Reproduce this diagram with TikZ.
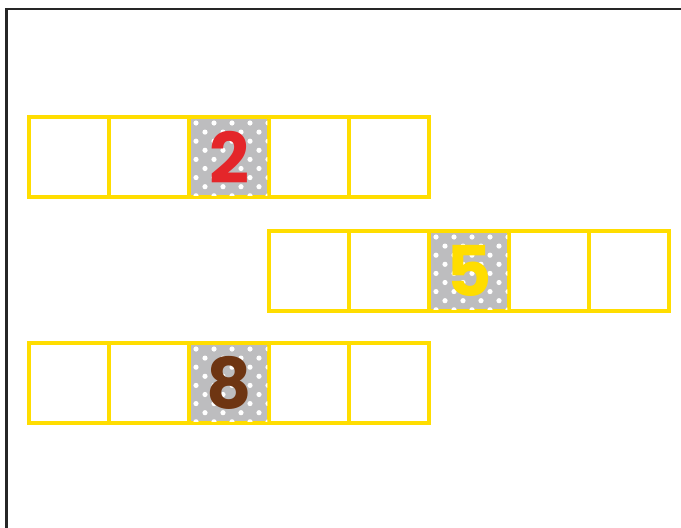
\documentclass[tikz,border=0pt]{standalone}
\usepackage{fontspec}
\newfontfamily\digitfont{Poppins}
\definecolor{cellyellow}{HTML}{FFDD00}
\definecolor{dotgray}{HTML}{BDBDBF}
\definecolor{framegray}{HTML}{262626}
\definecolor{digitred}{HTML}{E4262A}
\definecolor{digitbrown}{HTML}{6E3512}

\begin{document}
\begin{tikzpicture}[x=1pt, y=-1pt,
  cell/.style={draw=cellyellow, line width=3.5pt, minimum width=80pt,
               minimum height=80pt, inner sep=0pt, outer sep=0pt},
  digit/.style={font=\digitfont\bfseries\fontsize{70}{70}\selectfont,
                inner sep=0pt}]
  \useasboundingbox (0,0) rectangle (681,528);
  \draw[framegray, line width=2.5pt] (6.5,528) -- (6.5,9) -- (681,9);

  % three rows of cells
  \foreach \i in {1,...,5} {
    \node[cell] (a\i) at ({-11+80*\i}, 157) {};
    \node[cell] (b\i) at ({229+80*\i}, 271) {};
    \node[cell] (c\i) at ({-11+80*\i}, 383) {};
  }

  % dotted cells with digits
  \foreach \cel/\num/\col in {a3/2/digitred, b3/5/cellyellow, c3/8/digitbrown} {
    \fill[dotgray] ([shift={(1.75,1.75)}]\cel.north west)
      rectangle ([shift={(-1.75,-1.75)}]\cel.south east);
    \begin{scope}
      \clip ([shift={(1.75,1.75)}]\cel.north west)
        rectangle ([shift={(-1.75,-1.75)}]\cel.south east);
      \begin{scope}[shift={(\cel.north west)}]
        \foreach \r in {0,...,9}
          \foreach \c in {0,...,5}
            \fill[white] ({7+9*mod(\r,2)+18*\c}, {6+9.1*\r}) circle (2.6);
      \end{scope}
    \end{scope}
    \node[digit, text=\col] (d\num) at (\cel) {\num};
  }
\end{tikzpicture}
\end{document}
